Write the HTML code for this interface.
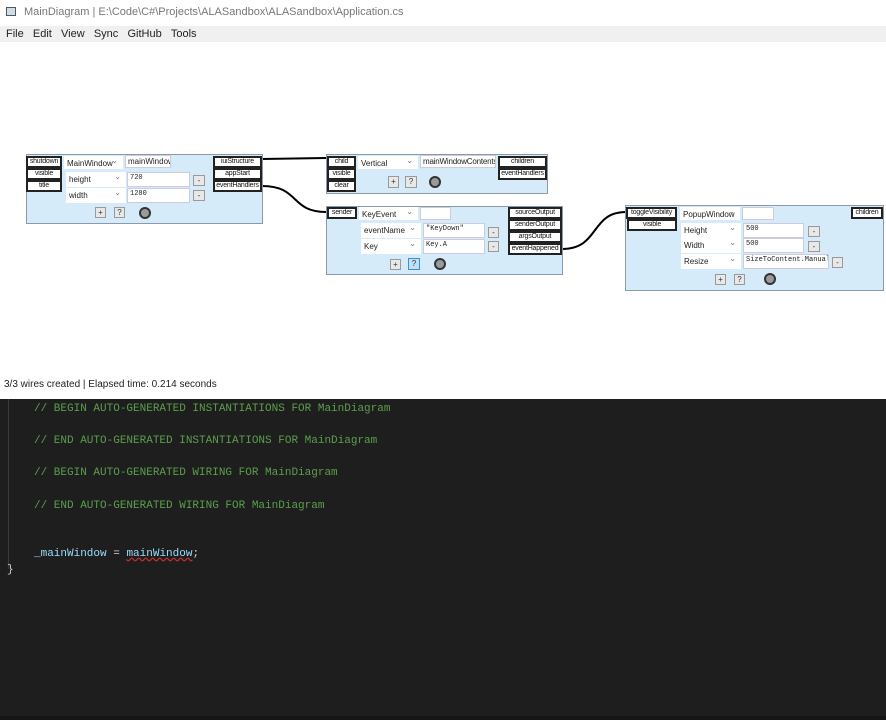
<!DOCTYPE html>
<html><head><meta charset="utf-8"><style>
*{margin:0;padding:0;box-sizing:border-box}
body{width:886px;height:720px;overflow:hidden;background:#fff;font-family:"Liberation Sans",sans-serif;position:relative}
.a{position:absolute}
.node{position:absolute;background:#d6ebf9;border:1px solid #8a9aa8}
.p{position:absolute;background:#fff;border:2px solid #222;font-size:7px;line-height:8px;text-align:center;color:#111;white-space:nowrap;overflow:hidden;letter-spacing:-0.2px}
.s{position:absolute;background:#fff;font-size:8px;color:#222;padding:3px 0 0 3px;white-space:nowrap}
.s:after{content:"⌄";position:absolute;right:5px;top:0px;font-size:8px;color:#777}
.i{position:absolute;background:#fff;border:1px solid #ccd;font-size:7px;color:#222;padding:1px 2px;white-space:nowrap;font-family:"Liberation Mono",monospace;overflow:hidden}
.b{position:absolute;background:#e8e8e8;border:1px solid #999;font-size:8px;text-align:center;line-height:9px;color:#333}
.c{position:absolute;width:12px;height:12px;border-radius:50%;background:#9a9a9a;border:2px solid #333}
.code{position:absolute;left:34px;font-family:"Liberation Mono",monospace;font-size:11px;color:#5c9e4e;white-space:pre}
</style></head><body>
<div class="a" style="left:0;top:0;width:886px;height:26px;background:#fff"></div>
<div class="a" style="left:6px;top:7px;width:10px;height:9px;border:1px solid #555;background:#cde"></div>
<div class="a" style="left:24px;top:6px;font-size:11px;color:#777">MainDiagram | E:\Code\C#\Projects\ALASandbox\ALASandbox\Application.cs</div>
<div class="a" style="left:0;top:26px;width:886px;height:16px;background:#f0f0f0"></div>
<div class="a" style="left:6px;top:28px;font-size:11px;color:#222">File&nbsp;&nbsp;&nbsp;Edit&nbsp;&nbsp;&nbsp;View&nbsp;&nbsp;&nbsp;Sync&nbsp;&nbsp;&nbsp;GitHub&nbsp;&nbsp;&nbsp;Tools</div>

<svg class="a" style="left:0;top:0" width="886" height="400">
<path d="M262 159 L326 158" stroke="#000" stroke-width="2" fill="none"/>
<path d="M262 186 C300 186 290 212 326 212" stroke="#000" stroke-width="2" fill="none"/>
<path d="M562 249 C600 249 590 212 626 212" stroke="#000" stroke-width="2" fill="none"/>
</svg>

<!-- Node 1 -->
<div class="node" style="left:26px;top:154px;width:237px;height:70px"></div>
<div class="p" style="left:26px;top:156px;width:36px;height:12px">shutdown</div>
<div class="p" style="left:26px;top:168px;width:36px;height:12px">visible</div>
<div class="p" style="left:26px;top:180px;width:36px;height:12px">title</div>
<div class="s" style="left:64px;top:156px;width:59px;height:13px">MainWindow</div>
<div class="i" style="left:125px;top:155px;width:46px;height:13px;font-family:'Liberation Sans',sans-serif;font-size:8px">mainWindow</div>
<div class="s" style="left:66px;top:172px;width:60px;height:15px">height</div>
<div class="i" style="left:127px;top:172px;width:63px;height:15px">720</div>
<div class="b" style="left:193px;top:175px;width:12px;height:11px">-</div>
<div class="s" style="left:66px;top:188px;width:60px;height:15px">width</div>
<div class="i" style="left:127px;top:188px;width:63px;height:15px">1280</div>
<div class="b" style="left:193px;top:190px;width:12px;height:11px">-</div>
<div class="b" style="left:95px;top:207px;width:11px;height:11px">+</div>
<div class="b" style="left:114px;top:207px;width:11px;height:11px">?</div>
<div class="c" style="left:139px;top:207px"></div>
<div class="p" style="left:213px;top:156px;width:49px;height:12px">iuiStructure</div>
<div class="p" style="left:213px;top:168px;width:49px;height:12px">appStart</div>
<div class="p" style="left:213px;top:180px;width:49px;height:12px">eventHandlers</div>

<!-- Node 2 -->
<div class="node" style="left:326px;top:154px;width:222px;height:40px"></div>
<div class="p" style="left:327px;top:156px;width:29px;height:12px">child</div>
<div class="p" style="left:327px;top:168px;width:29px;height:12px">visible</div>
<div class="p" style="left:327px;top:180px;width:29px;height:12px">clear</div>
<div class="s" style="left:358px;top:156px;width:60px;height:13px">Vertical</div>
<div class="i" style="left:420px;top:155px;width:76px;height:13px;font-family:'Liberation Sans',sans-serif;font-size:8px;letter-spacing:-0.2px">mainWindowContents</div>
<div class="p" style="left:498px;top:156px;width:49px;height:12px">children</div>
<div class="p" style="left:498px;top:168px;width:49px;height:12px">eventHandlers</div>
<div class="b" style="left:388px;top:176px;width:11px;height:12px">+</div>
<div class="b" style="left:405px;top:176px;width:12px;height:12px">?</div>
<div class="c" style="left:429px;top:176px"></div>

<!-- Node 3 -->
<div class="node" style="left:326px;top:206px;width:237px;height:69px"></div>
<div class="p" style="left:327px;top:207px;width:30px;height:12px">sender</div>
<div class="s" style="left:359px;top:207px;width:59px;height:13px">KeyEvent</div>
<div class="i" style="left:420px;top:207px;width:31px;height:13px"></div>
<div class="s" style="left:361px;top:223px;width:60px;height:15px">eventName</div>
<div class="i" style="left:423px;top:223px;width:62px;height:15px">"KeyDown"</div>
<div class="b" style="left:488px;top:227px;width:11px;height:11px">-</div>
<div class="s" style="left:361px;top:239px;width:60px;height:15px">Key</div>
<div class="i" style="left:423px;top:239px;width:62px;height:15px">Key.A</div>
<div class="b" style="left:488px;top:241px;width:11px;height:11px">-</div>
<div class="b" style="left:390px;top:259px;width:11px;height:11px">+</div>
<div class="b" style="left:408px;top:258px;width:12px;height:12px;background:#bfe0f7;border-color:#3a8fd0">?</div>
<div class="c" style="left:434px;top:258px"></div>
<div class="p" style="left:508px;top:207px;width:54px;height:12px">sourceOutput</div>
<div class="p" style="left:508px;top:219px;width:54px;height:12px">senderOutput</div>
<div class="p" style="left:508px;top:231px;width:54px;height:12px">argsOutput</div>
<div class="p" style="left:508px;top:243px;width:54px;height:12px">eventHappened</div>

<!-- Node 4 -->
<div class="node" style="left:625px;top:205px;width:259px;height:86px"></div>
<div class="p" style="left:626px;top:207px;width:51px;height:12px">toggleVisibility</div>
<div class="p" style="left:627px;top:219px;width:50px;height:12px">visible</div>
<div class="s" style="left:680px;top:207px;width:60px;height:13px">PopupWindow</div>
<div class="i" style="left:742px;top:207px;width:32px;height:13px"></div>
<div class="p" style="left:851px;top:207px;width:32px;height:12px">children</div>
<div class="s" style="left:681px;top:223px;width:60px;height:15px">Height</div>
<div class="i" style="left:743px;top:223px;width:61px;height:15px">500</div>
<div class="b" style="left:808px;top:226px;width:12px;height:11px">-</div>
<div class="s" style="left:681px;top:238px;width:60px;height:15px">Width</div>
<div class="i" style="left:743px;top:238px;width:61px;height:15px">500</div>
<div class="b" style="left:808px;top:241px;width:12px;height:11px">-</div>
<div class="s" style="left:681px;top:254px;width:60px;height:15px">Resize</div>
<div class="i" style="left:743px;top:254px;width:86px;height:15px">SizeToContent.Manual</div>
<div class="b" style="left:832px;top:257px;width:11px;height:11px">-</div>
<div class="b" style="left:715px;top:274px;width:11px;height:11px">+</div>
<div class="b" style="left:734px;top:274px;width:11px;height:11px">?</div>
<div class="c" style="left:764px;top:273px"></div>

<div class="a" style="left:4px;top:379px;font-size:10px;color:#222">3/3 wires created | Elapsed time: 0.214 seconds</div>

<div class="a" style="left:0;top:399px;width:886px;height:321px;background:#1e1e1e"></div>
<div class="a" style="left:8px;top:399px;width:1px;height:170px;background:#3a3a3a"></div>
<div class="code" style="top:403px">// BEGIN AUTO-GENERATED INSTANTIATIONS FOR MainDiagram</div>
<div class="code" style="top:435px">// END AUTO-GENERATED INSTANTIATIONS FOR MainDiagram</div>
<div class="code" style="top:467px">// BEGIN AUTO-GENERATED WIRING FOR MainDiagram</div>
<div class="code" style="top:500px">// END AUTO-GENERATED WIRING FOR MainDiagram</div>
<div class="code" style="top:548px;color:#9cdcfe">_mainWindow <span style="color:#d4d4d4">=</span> <span style="text-decoration:underline wavy #d03030">mainWindow</span><span style="color:#d4d4d4">;</span></div>
<div class="code" style="left:7px;top:564px;color:#d4d4d4">}</div>
<div class="a" style="left:0;top:716px;width:886px;height:4px;background:#151515"></div>
</body></html>
